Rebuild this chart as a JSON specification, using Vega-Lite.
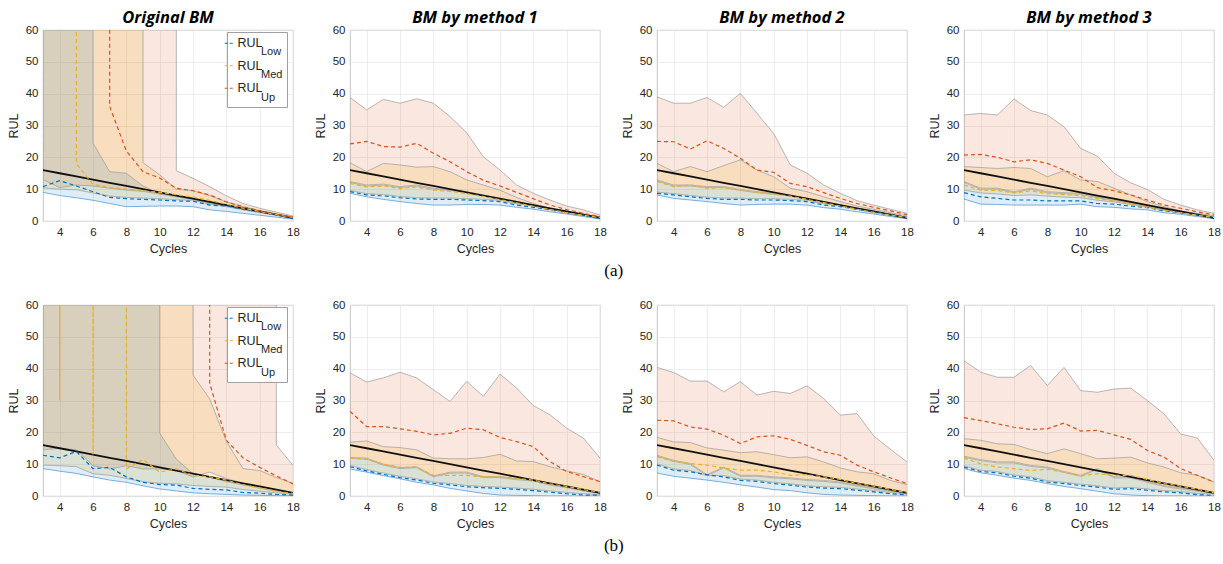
{
"$schema": "https://vega.github.io/schema/vega-lite/v6.json",
"background": "white",
"padding": {"left": 6, "top": 9, "right": 5, "bottom": 5},
"datasets": {"d": [
{"r":"a","g":"Original BM","c":3,"t":16,"lL":9,"lM":10.8,"lU":1e5,"mL":10.4,"mM":25,"mU":1e5,"uL":13,"uM":1e5,"uU":1e5},
{"r":"a","g":"Original BM","c":4,"t":15,"lL":8,"lM":12.7,"lU":1e5,"mL":10,"mM":1e5,"mU":1e5,"uL":10.5,"uM":1e5,"uU":1e5},
{"r":"a","g":"Original BM","c":5,"t":14,"lL":7.3,"lM":11,"lU":1e5,"mL":9.8,"mM":18,"mU":1e5,"uL":11.3,"uM":1e5,"uU":1e5},
{"r":"a","g":"Original BM","c":6,"t":13,"lL":6.5,"lM":9.2,"lU":24.5,"mL":8.8,"mM":11.5,"mU":1e5,"uL":11,"uM":1e5,"uU":1e5},
{"r":"a","g":"Original BM","c":7,"t":12,"lL":5.5,"lM":7.4,"lU":15.5,"mL":7.8,"mM":10.5,"mU":1e5,"uL":10.3,"uM":36,"uU":1e5},
{"r":"a","g":"Original BM","c":8,"t":11,"lL":4.5,"lM":7,"lU":15,"mL":7.4,"mM":10,"mU":1e5,"uL":9.7,"uM":22,"uU":1e5},
{"r":"a","g":"Original BM","c":9,"t":10,"lL":4.6,"lM":6.8,"lU":11,"mL":7.2,"mM":9.5,"mU":18.3,"uL":9.3,"uM":15.5,"uU":1e5},
{"r":"a","g":"Original BM","c":10,"t":9,"lL":4.7,"lM":6.6,"lU":8.5,"mL":7,"mM":9,"mU":14.5,"uL":8.5,"uM":13.5,"uU":1e5},
{"r":"a","g":"Original BM","c":11,"t":8,"lL":4.7,"lM":6.3,"lU":7.5,"mL":6.7,"mM":8.3,"mU":10,"uL":8,"uM":10.3,"uU":15.8},
{"r":"a","g":"Original BM","c":12,"t":7,"lL":4.5,"lM":6.2,"lU":6.8,"mL":6.5,"mM":7.5,"mU":9.5,"uL":7,"uM":9.5,"uU":13.4},
{"r":"a","g":"Original BM","c":13,"t":6,"lL":3.5,"lM":5,"lU":5.5,"mL":5.3,"mM":6.5,"mU":8,"uL":5.8,"uM":8.2,"uU":10.8},
{"r":"a","g":"Original BM","c":14,"t":5,"lL":3,"lM":4.7,"lU":4.5,"mL":4.9,"mM":5.3,"mU":6,"uL":4.8,"uM":6,"uU":7.9},
{"r":"a","g":"Original BM","c":15,"t":4,"lL":2.4,"lM":3.7,"lU":3.5,"mL":3.9,"mM":4,"mU":4.5,"uL":3.8,"uM":4.5,"uU":5.5},
{"r":"a","g":"Original BM","c":16,"t":3,"lL":1.8,"lM":2.9,"lU":2.6,"mL":3,"mM":3,"mU":3.3,"uL":2.8,"uM":3.2,"uU":4},
{"r":"a","g":"Original BM","c":17,"t":2,"lL":1.2,"lM":1.9,"lU":1.8,"mL":2.1,"mM":2,"mU":2.3,"uL":2,"uM":2.1,"uU":2.8},
{"r":"a","g":"Original BM","c":18,"t":1,"lL":0.6,"lM":0.8,"lU":1,"mL":1,"mM":1.1,"mU":1.3,"uL":1.2,"uM":1.2,"uU":1.6},
{"r":"a","g":"BM by method 1","c":3,"t":16,"lL":8.7,"lM":9.2,"lU":12.1,"mL":9.6,"mM":11.8,"mU":18.3,"uL":12.4,"uM":24.2,"uU":38.8},
{"r":"a","g":"BM by method 1","c":4,"t":15,"lL":7.6,"lM":8.2,"lU":11,"mL":8.6,"mM":10.7,"mU":15.5,"uL":11.3,"uM":25,"uU":34.9},
{"r":"a","g":"BM by method 1","c":5,"t":14,"lL":6.8,"lM":7.9,"lU":11.3,"mL":8.3,"mM":11,"mU":18.1,"uL":11.6,"uM":23.4,"uU":38.2},
{"r":"a","g":"BM by method 1","c":6,"t":13,"lL":6.1,"lM":7.3,"lU":10.5,"mL":7.7,"mM":10.2,"mU":17.6,"uL":10.8,"uM":23.2,"uU":37},
{"r":"a","g":"BM by method 1","c":7,"t":12,"lL":5.5,"lM":6.9,"lU":11,"mL":7.3,"mM":10.7,"mU":16.9,"uL":11.3,"uM":24.4,"uU":38.4},
{"r":"a","g":"BM by method 1","c":8,"t":11,"lL":5,"lM":6.8,"lU":10,"mL":7.2,"mM":9.7,"mU":17.1,"uL":10.3,"uM":21.3,"uU":37},
{"r":"a","g":"BM by method 1","c":9,"t":10,"lL":5,"lM":6.8,"lU":9.6,"mL":7.2,"mM":9.3,"mU":15.5,"uL":9.9,"uM":18.6,"uU":32.8},
{"r":"a","g":"BM by method 1","c":10,"t":9,"lL":5.2,"lM":6.6,"lU":8.9,"mL":7,"mM":8.6,"mU":12.9,"uL":9.2,"uM":15.5,"uU":27.7},
{"r":"a","g":"BM by method 1","c":11,"t":8,"lL":5.2,"lM":6.4,"lU":7.9,"mL":6.8,"mM":7.7,"mU":11.3,"uL":8.2,"uM":12.8,"uU":20.2},
{"r":"a","g":"BM by method 1","c":12,"t":7,"lL":5,"lM":6.1,"lU":6.8,"mL":6.5,"mM":6.7,"mU":9.7,"uL":7.1,"uM":11,"uU":16},
{"r":"a","g":"BM by method 1","c":13,"t":6,"lL":4.3,"lM":5,"lU":5.8,"mL":5.4,"mM":5.7,"mU":7.4,"uL":6.1,"uM":9,"uU":11.3},
{"r":"a","g":"BM by method 1","c":14,"t":5,"lL":3.7,"lM":4.3,"lU":4.7,"mL":4.7,"mM":4.6,"mU":5.5,"uL":5,"uM":7,"uU":8.7},
{"r":"a","g":"BM by method 1","c":15,"t":4,"lL":2.9,"lM":3.5,"lU":3.7,"mL":3.9,"mM":3.6,"mU":4,"uL":4,"uM":5,"uU":6.6},
{"r":"a","g":"BM by method 1","c":16,"t":3,"lL":2.2,"lM":2.6,"lU":2.6,"mL":3,"mM":2.6,"mU":2.9,"uL":2.9,"uM":3.6,"uU":4.7},
{"r":"a","g":"BM by method 1","c":17,"t":2,"lL":1.4,"lM":1.8,"lU":1.8,"mL":2.2,"mM":1.8,"mU":1.9,"uL":2.1,"uM":2.4,"uU":3.5},
{"r":"a","g":"BM by method 1","c":18,"t":1,"lL":0.6,"lM":0.8,"lU":1,"mL":1.1,"mM":1.1,"mU":1.4,"uL":1.2,"uM":1.4,"uU":1.9},
{"r":"a","g":"BM by method 2","c":3,"t":16,"lL":8.2,"lM":8.7,"lU":12.6,"mL":9.1,"mM":12.4,"mU":18.1,"uL":12.9,"uM":25,"uU":39},
{"r":"a","g":"BM by method 2","c":4,"t":15,"lL":7.1,"lM":8.2,"lU":11,"mL":8.6,"mM":10.8,"mU":15.5,"uL":11.3,"uM":24.9,"uU":37},
{"r":"a","g":"BM by method 2","c":5,"t":14,"lL":6.6,"lM":7.6,"lU":11,"mL":8,"mM":11.3,"mU":17.1,"uL":11.3,"uM":22.6,"uU":37},
{"r":"a","g":"BM by method 2","c":6,"t":13,"lL":6.1,"lM":7.1,"lU":10.5,"mL":7.5,"mM":10.3,"mU":15.5,"uL":10.8,"uM":25.2,"uU":38.8},
{"r":"a","g":"BM by method 2","c":7,"t":12,"lL":5.5,"lM":6.8,"lU":10.5,"mL":7.2,"mM":10.5,"mU":17.4,"uL":10.8,"uM":22.8,"uU":35.7},
{"r":"a","g":"BM by method 2","c":8,"t":11,"lL":5,"lM":6.8,"lU":9.6,"mL":7.2,"mM":9.7,"mU":19.2,"uL":9.9,"uM":19.7,"uU":40.1},
{"r":"a","g":"BM by method 2","c":9,"t":10,"lL":5.2,"lM":6.6,"lU":8.9,"mL":7,"mM":9,"mU":16,"uL":9.2,"uM":16,"uU":33.8},
{"r":"a","g":"BM by method 2","c":10,"t":9,"lL":5.3,"lM":6.6,"lU":8.4,"mL":7,"mM":8.5,"mU":13.9,"uL":8.7,"uM":15.3,"uU":27.5},
{"r":"a","g":"BM by method 2","c":11,"t":8,"lL":5.3,"lM":6.4,"lU":7.9,"mL":6.8,"mM":7.8,"mU":10.3,"uL":8.2,"uM":11.8,"uU":17.6},
{"r":"a","g":"BM by method 2","c":12,"t":7,"lL":5,"lM":6.1,"lU":6.8,"mL":6.5,"mM":6.8,"mU":9.2,"uL":7.1,"uM":10.8,"uU":15},
{"r":"a","g":"BM by method 2","c":13,"t":6,"lL":4.2,"lM":5,"lU":5.8,"mL":5.4,"mM":5.8,"mU":7.6,"uL":6.1,"uM":8.9,"uU":11.3},
{"r":"a","g":"BM by method 2","c":14,"t":5,"lL":3.7,"lM":4.5,"lU":4.7,"mL":4.9,"mM":4.7,"mU":6.1,"uL":5,"uM":7.1,"uU":8.7},
{"r":"a","g":"BM by method 2","c":15,"t":4,"lL":2.9,"lM":3.7,"lU":3.7,"mL":4,"mM":3.7,"mU":4.7,"uL":4,"uM":5.5,"uU":6.4},
{"r":"a","g":"BM by method 2","c":16,"t":3,"lL":2.2,"lM":2.8,"lU":2.6,"mL":3.1,"mM":2.7,"mU":3.7,"uL":2.9,"uM":4.3,"uU":5},
{"r":"a","g":"BM by method 2","c":17,"t":2,"lL":1.4,"lM":1.9,"lU":1.8,"mL":2,"mM":1.9,"mU":2.6,"uL":2.1,"uM":3.2,"uU":3.7},
{"r":"a","g":"BM by method 2","c":18,"t":1,"lL":0.7,"lM":1.2,"lU":1,"mL":1.1,"mM":1.1,"mU":1.6,"uL":1.2,"uM":2,"uU":2.4},
{"r":"a","g":"BM by method 3","c":3,"t":16,"lL":6.9,"lM":8.9,"lU":12.1,"mL":9.7,"mM":11.3,"mU":17.1,"uL":12.4,"uM":20.7,"uU":33.3},
{"r":"a","g":"BM by method 3","c":4,"t":15,"lL":5.3,"lM":7.6,"lU":10,"mL":8.8,"mM":9.7,"mU":16.8,"uL":10.3,"uM":20.9,"uU":33.8},
{"r":"a","g":"BM by method 3","c":5,"t":14,"lL":5.2,"lM":7.1,"lU":10,"mL":8.5,"mM":9.6,"mU":16.5,"uL":10.3,"uM":20,"uU":33.3},
{"r":"a","g":"BM by method 3","c":6,"t":13,"lL":5,"lM":6.6,"lU":8.9,"mL":8,"mM":8.8,"mU":16.8,"uL":9.2,"uM":18.6,"uU":38.3},
{"r":"a","g":"BM by method 3","c":7,"t":12,"lL":5,"lM":6.6,"lU":10,"mL":8.2,"mM":9.5,"mU":16.5,"uL":10.3,"uM":19.2,"uU":34.7},
{"r":"a","g":"BM by method 3","c":8,"t":11,"lL":5,"lM":6.3,"lU":8.9,"mL":7.8,"mM":8.6,"mU":13.9,"uL":9.2,"uM":18.1,"uU":33.3},
{"r":"a","g":"BM by method 3","c":9,"t":10,"lL":5,"lM":6.3,"lU":8.6,"mL":7.5,"mM":8.3,"mU":15.8,"uL":8.9,"uM":16,"uU":29.6},
{"r":"a","g":"BM by method 3","c":10,"t":9,"lL":5.3,"lM":6.3,"lU":8.4,"mL":7.3,"mM":8,"mU":12.9,"uL":8.7,"uM":13.9,"uU":22.8},
{"r":"a","g":"BM by method 3","c":11,"t":8,"lL":4.5,"lM":5.5,"lU":7.3,"mL":6.5,"mM":7,"mU":12.4,"uL":7.6,"uM":10.5,"uU":20.4},
{"r":"a","g":"BM by method 3","c":12,"t":7,"lL":4.3,"lM":5.3,"lU":6.5,"mL":6,"mM":6.3,"mU":10.3,"uL":6.8,"uM":9.5,"uU":15},
{"r":"a","g":"BM by method 3","c":13,"t":6,"lL":3.8,"lM":4.7,"lU":5.5,"mL":5.2,"mM":5.3,"mU":8.2,"uL":5.8,"uM":8.2,"uU":12},
{"r":"a","g":"BM by method 3","c":14,"t":5,"lL":3.5,"lM":4.2,"lU":4.4,"mL":4.5,"mM":4.3,"mU":6.1,"uL":4.7,"uM":6.6,"uU":9.9},
{"r":"a","g":"BM by method 3","c":15,"t":4,"lL":2.6,"lM":3.2,"lU":3.4,"mL":3.5,"mM":3.4,"mU":4.5,"uL":3.7,"uM":5,"uU":6.8},
{"r":"a","g":"BM by method 3","c":16,"t":3,"lL":2.1,"lM":2.6,"lU":2.5,"mL":2.7,"mM":2.6,"mU":3.2,"uL":2.8,"uM":4,"uU":5},
{"r":"a","g":"BM by method 3","c":17,"t":2,"lL":1.4,"lM":1.9,"lU":1.7,"mL":1.8,"mM":1.8,"mU":2.4,"uL":1.9,"uM":2.9,"uU":3.5},
{"r":"a","g":"BM by method 3","c":18,"t":1,"lL":0.7,"lM":1.2,"lU":1,"mL":1.1,"mM":1.1,"mU":1.6,"uL":1.2,"uM":1.9,"uU":2.4},
{"r":"b","g":"Original BM","c":3,"t":16,"lL":8.6,"lM":12.8,"lU":1e5,"mL":9.7,"mM":1e5,"mU":1e5,"uL":14.5,"uM":1e5,"uU":1e5},
{"r":"b","g":"Original BM","c":4,"t":15,"lL":7.8,"lM":12,"lU":1e5,"mL":9.5,"mM":30,"mU":1e5,"uL":15,"uM":1e5,"uU":1e5},
{"r":"b","g":"Original BM","c":5,"t":14,"lL":7.1,"lM":14,"lU":1e5,"mL":9.2,"mM":1e5,"mU":1e5,"uL":14.5,"uM":1e5,"uU":1e5},
{"r":"b","g":"Original BM","c":6,"t":13,"lL":6,"lM":8.6,"lU":1e5,"mL":7,"mM":13,"mU":1e5,"uL":9.5,"uM":1e5,"uU":1e5},
{"r":"b","g":"Original BM","c":7,"t":12,"lL":5,"lM":9,"lU":1e5,"mL":6.5,"mM":1e5,"mU":1e5,"uL":8.5,"uM":1e5,"uU":1e5},
{"r":"b","g":"Original BM","c":8,"t":11,"lL":4.3,"lM":6,"lU":1e5,"mL":5.5,"mM":8.5,"mU":1e5,"uL":9.5,"uM":1e5,"uU":1e5},
{"r":"b","g":"Original BM","c":9,"t":10,"lL":3.2,"lM":4.3,"lU":1e5,"mL":4.5,"mM":11.5,"mU":1e5,"uL":8.5,"uM":1e5,"uU":1e5},
{"r":"b","g":"Original BM","c":10,"t":9,"lL":2.2,"lM":3.6,"lU":19.8,"mL":4,"mM":7.5,"mU":1e5,"uL":8.5,"uM":1e5,"uU":1e5},
{"r":"b","g":"Original BM","c":11,"t":8,"lL":1.6,"lM":3.4,"lU":11.6,"mL":3.8,"mM":8.5,"mU":1e5,"uL":8,"uM":1e5,"uU":1e5},
{"r":"b","g":"Original BM","c":12,"t":7,"lL":1,"lM":2.4,"lU":7,"mL":3.3,"mM":6.5,"mU":38,"uL":6,"uM":1e5,"uU":1e5},
{"r":"b","g":"Original BM","c":13,"t":6,"lL":0.7,"lM":2.1,"lU":6,"mL":3,"mM":6,"mU":30.5,"uL":7.5,"uM":35.5,"uU":1e5},
{"r":"b","g":"Original BM","c":14,"t":5,"lL":0.5,"lM":1.9,"lU":4.5,"mL":2.8,"mM":5,"mU":17.2,"uL":5.5,"uM":17.5,"uU":1e5},
{"r":"b","g":"Original BM","c":15,"t":4,"lL":0.3,"lM":1.1,"lU":3.5,"mL":2,"mM":3.5,"mU":8.6,"uL":4,"uM":12,"uU":1e5},
{"r":"b","g":"Original BM","c":16,"t":3,"lL":0.2,"lM":0.9,"lU":2.5,"mL":1.5,"mM":2.5,"mU":8,"uL":3,"uM":9,"uU":1e5},
{"r":"b","g":"Original BM","c":17,"t":2,"lL":0.1,"lM":0.5,"lU":1.5,"mL":1,"mM":1.5,"mU":5.8,"uL":2,"uM":6.3,"uU":16},
{"r":"b","g":"Original BM","c":18,"t":1,"lL":0.1,"lM":0.3,"lU":0.8,"mL":0.5,"mM":0.8,"mU":4,"uL":1,"uM":3.8,"uU":9.6},
{"r":"b","g":"BM by method 1","c":3,"t":16,"lL":8.5,"lM":9.2,"lU":11.8,"mL":9.6,"mM":12,"mU":16.9,"uL":12.1,"uM":26.6,"uU":38.7},
{"r":"b","g":"BM by method 1","c":4,"t":15,"lL":7.5,"lM":7.9,"lU":11.6,"mL":8.3,"mM":11.5,"mU":17.3,"uL":11.9,"uM":21.8,"uU":35.8},
{"r":"b","g":"BM by method 1","c":5,"t":14,"lL":6.4,"lM":6.8,"lU":9.7,"mL":7.2,"mM":10,"mU":15.5,"uL":10,"uM":21.8,"uU":37.1},
{"r":"b","g":"BM by method 1","c":6,"t":13,"lL":5.4,"lM":5.8,"lU":8.6,"mL":6.2,"mM":9,"mU":15.2,"uL":8.9,"uM":21.1,"uU":38.9},
{"r":"b","g":"BM by method 1","c":7,"t":12,"lL":4.3,"lM":5,"lU":8.9,"mL":5.4,"mM":9,"mU":14.5,"uL":9.2,"uM":20.3,"uU":37.1},
{"r":"b","g":"BM by method 1","c":8,"t":11,"lL":3.5,"lM":4,"lU":6,"mL":4.4,"mM":6.5,"mU":11.9,"uL":6.3,"uM":19.2,"uU":33.4},
{"r":"b","g":"BM by method 1","c":9,"t":10,"lL":2.4,"lM":3.5,"lU":7.2,"mL":3.9,"mM":6.5,"mU":11.7,"uL":7.5,"uM":19.7,"uU":29.7},
{"r":"b","g":"BM by method 1","c":10,"t":9,"lL":1.6,"lM":2.9,"lU":7.2,"mL":3.3,"mM":6.5,"mU":11.7,"uL":7.5,"uM":21.3,"uU":36},
{"r":"b","g":"BM by method 1","c":11,"t":8,"lL":0.8,"lM":2.6,"lU":5.8,"mL":3,"mM":6,"mU":12.1,"uL":6.1,"uM":20.8,"uU":31.3},
{"r":"b","g":"BM by method 1","c":12,"t":7,"lL":0.3,"lM":2.4,"lU":5.8,"mL":2.8,"mM":6,"mU":13.1,"uL":6.1,"uM":18.4,"uU":38.3},
{"r":"b","g":"BM by method 1","c":13,"t":6,"lL":0.2,"lM":2.1,"lU":5.1,"mL":2.5,"mM":5.5,"mU":11,"uL":5.4,"uM":17.1,"uU":33.9},
{"r":"b","g":"BM by method 1","c":14,"t":5,"lL":0.1,"lM":1.7,"lU":4.7,"mL":2.1,"mM":5,"mU":10.8,"uL":5,"uM":15.5,"uU":28.4},
{"r":"b","g":"BM by method 1","c":15,"t":4,"lL":0,"lM":1.2,"lU":3.4,"mL":1.6,"mM":3.8,"mU":9.2,"uL":3.7,"uM":10.8,"uU":25.5},
{"r":"b","g":"BM by method 1","c":16,"t":3,"lL":0,"lM":0.7,"lU":2.6,"mL":1.1,"mM":3,"mU":7.9,"uL":2.9,"uM":7.7,"uU":21.3},
{"r":"b","g":"BM by method 1","c":17,"t":2,"lL":0,"lM":0.3,"lU":1.6,"mL":0.7,"mM":2,"mU":6.8,"uL":1.9,"uM":6.1,"uU":18.2},
{"r":"b","g":"BM by method 1","c":18,"t":1,"lL":0,"lM":0.3,"lU":0.9,"mL":0.5,"mM":1.2,"mU":4.5,"uL":1.2,"uM":4.5,"uU":11.9},
{"r":"b","g":"BM by method 2","c":3,"t":16,"lL":7.2,"lM":9.7,"lU":12.5,"mL":10.1,"mM":12.3,"mU":18.4,"uL":12.8,"uM":23.8,"uU":40.4},
{"r":"b","g":"BM by method 2","c":4,"t":15,"lL":6.2,"lM":8.1,"lU":10.9,"mL":8.5,"mM":10.9,"mU":17,"uL":11.2,"uM":23.6,"uU":38.8},
{"r":"b","g":"BM by method 2","c":5,"t":14,"lL":5.6,"lM":7.6,"lU":9.9,"mL":8,"mM":10.2,"mU":16.8,"uL":10.2,"uM":21.7,"uU":36.1},
{"r":"b","g":"BM by method 2","c":6,"t":13,"lL":5,"lM":6.7,"lU":6.4,"mL":6.4,"mM":9.7,"mU":15.1,"uL":6.7,"uM":21,"uU":36.1},
{"r":"b","g":"BM by method 2","c":7,"t":12,"lL":4.3,"lM":6,"lU":8.8,"mL":6.4,"mM":8.8,"mU":14.4,"uL":9.1,"uM":19.1,"uU":32.7},
{"r":"b","g":"BM by method 2","c":8,"t":11,"lL":3.5,"lM":4.9,"lU":6.2,"mL":5.3,"mM":8.1,"mU":13.6,"uL":6.5,"uM":16.5,"uU":35.9},
{"r":"b","g":"BM by method 2","c":9,"t":10,"lL":2.8,"lM":4.6,"lU":6.2,"mL":5,"mM":8.1,"mU":13.9,"uL":6.5,"uM":18.6,"uU":31.7},
{"r":"b","g":"BM by method 2","c":10,"t":9,"lL":2,"lM":3.9,"lU":5.7,"mL":4.3,"mM":7.6,"mU":13,"uL":6,"uM":18.9,"uU":32.9},
{"r":"b","g":"BM by method 2","c":11,"t":8,"lL":1.7,"lM":3.4,"lU":5.4,"mL":3.8,"mM":6.5,"mU":12,"uL":5.7,"uM":17.8,"uU":32.2},
{"r":"b","g":"BM by method 2","c":12,"t":7,"lL":1,"lM":2.8,"lU":4.9,"mL":3.2,"mM":6.7,"mU":12.3,"uL":5.2,"uM":15.9,"uU":34.6},
{"r":"b","g":"BM by method 2","c":13,"t":6,"lL":0.5,"lM":2.5,"lU":4.6,"mL":2.9,"mM":6,"mU":10.7,"uL":4.9,"uM":13.9,"uU":30.6},
{"r":"b","g":"BM by method 2","c":14,"t":5,"lL":0.3,"lM":2.3,"lU":4.1,"mL":2.7,"mM":5.2,"mU":8.8,"uL":4.4,"uM":12.8,"uU":25.4},
{"r":"b","g":"BM by method 2","c":15,"t":4,"lL":0.2,"lM":1.8,"lU":3.1,"mL":2.2,"mM":3.9,"mU":7.6,"uL":3.4,"uM":9.7,"uU":25.9},
{"r":"b","g":"BM by method 2","c":16,"t":3,"lL":0.1,"lM":1.3,"lU":2.3,"mL":1.7,"mM":3.1,"mU":7,"uL":2.6,"uM":7.6,"uU":18.9},
{"r":"b","g":"BM by method 2","c":17,"t":2,"lL":0,"lM":0.7,"lU":1.5,"mL":1.1,"mM":2.1,"mU":4.9,"uL":1.8,"uM":5.7,"uU":14.7},
{"r":"b","g":"BM by method 2","c":18,"t":1,"lL":0,"lM":0.4,"lU":0.8,"mL":0.6,"mM":1,"mU":3.6,"uL":1,"uM":3.9,"uU":10.7},
{"r":"b","g":"BM by method 3","c":3,"t":16,"lL":8.6,"lM":9.1,"lU":12.2,"mL":9.5,"mM":11.9,"mU":18,"uL":12.5,"uM":24.6,"uU":42.5},
{"r":"b","g":"BM by method 3","c":4,"t":15,"lL":7.3,"lM":7.7,"lU":11.1,"mL":8.1,"mM":10.1,"mU":17.5,"uL":11.4,"uM":23.7,"uU":38.9},
{"r":"b","g":"BM by method 3","c":5,"t":14,"lL":6.5,"lM":7.3,"lU":10.4,"mL":7.7,"mM":9.1,"mU":16.4,"uL":10.7,"uM":22.7,"uU":37.3},
{"r":"b","g":"BM by method 3","c":6,"t":13,"lL":5.6,"lM":6.2,"lU":10.4,"mL":6.6,"mM":8.6,"mU":16.2,"uL":10.7,"uM":21.6,"uU":37.3},
{"r":"b","g":"BM by method 3","c":7,"t":12,"lL":4.9,"lM":5.6,"lU":9.3,"mL":6,"mM":8,"mU":14.6,"uL":9.6,"uM":20.9,"uU":41},
{"r":"b","g":"BM by method 3","c":8,"t":11,"lL":3.9,"lM":4.4,"lU":8.8,"mL":4.8,"mM":8.4,"mU":13.3,"uL":9.1,"uM":21.1,"uU":34.7},
{"r":"b","g":"BM by method 3","c":9,"t":10,"lL":3,"lM":3.9,"lU":7.4,"mL":4.3,"mM":7.5,"mU":14.8,"uL":7.7,"uM":22.9,"uU":40.4},
{"r":"b","g":"BM by method 3","c":10,"t":9,"lL":2.3,"lM":3.3,"lU":6.2,"mL":3.7,"mM":6.3,"mU":13.3,"uL":6.5,"uM":20.4,"uU":33.1},
{"r":"b","g":"BM by method 3","c":11,"t":8,"lL":1.5,"lM":2.8,"lU":8.3,"mL":3.2,"mM":7,"mU":11.7,"uL":8.6,"uM":20.6,"uU":32.6},
{"r":"b","g":"BM by method 3","c":12,"t":7,"lL":0.7,"lM":2.1,"lU":5.7,"mL":2.5,"mM":6.5,"mU":11.9,"uL":6,"uM":19.2,"uU":33.6},
{"r":"b","g":"BM by method 3","c":13,"t":6,"lL":0.3,"lM":2.3,"lU":5.7,"mL":2.7,"mM":6.5,"mU":12.2,"uL":6,"uM":17.8,"uU":33.9},
{"r":"b","g":"BM by method 3","c":14,"t":5,"lL":0.1,"lM":1.8,"lU":4.3,"mL":2.2,"mM":5.2,"mU":10.4,"uL":4.6,"uM":14.3,"uU":30},
{"r":"b","g":"BM by method 3","c":15,"t":4,"lL":0,"lM":1.3,"lU":3,"mL":1.7,"mM":3.9,"mU":9.1,"uL":3.3,"uM":12.2,"uU":25.8},
{"r":"b","g":"BM by method 3","c":16,"t":3,"lL":0,"lM":1,"lU":2.2,"mL":1.4,"mM":3.1,"mU":7.3,"uL":2.5,"uM":8.6,"uU":19.5},
{"r":"b","g":"BM by method 3","c":17,"t":2,"lL":0,"lM":0.4,"lU":1.5,"mL":0.8,"mM":2.1,"mU":6.5,"uL":1.8,"uM":6.5,"uU":18.2},
{"r":"b","g":"BM by method 3","c":18,"t":1,"lL":0,"lM":0.2,"lU":0.8,"mL":0.6,"mM":1,"mU":4.4,"uL":1,"uM":4.4,"uU":11.2}
]},
"data": {"name": "d"},
"spacing": 18,
"resolve": {"scale": {"color": "independent", "strokeWidth": "independent"}, "legend": {"color": "independent", "strokeWidth": "independent"}},
"vconcat": [
{
"transform": [{"filter": "datum.r === 'a'"}],
"facet": {"column": {"field": "g", "type": "nominal", "sort": ["Original BM", "BM by method 1", "BM by method 2", "BM by method 3"], "title": null,
  "header": {"labelFont": "Open Sans", "labelFontStyle": "italic", "labelFontWeight": "bold", "labelFontSize": 16.5, "labelColor": "black", "labelPadding": 4}}},
"spacing": {"column": 57},
"bounds": "flush",
"title": {"text": "(a)", "orient": "bottom", "anchor": "middle", "font": "Liberation Serif", "fontSize": 17, "fontWeight": "normal", "color": "black", "offset": 8},
"resolve": {"axis": {"x": "independent", "y": "independent"}},
"spec": {
 "width": 250, "height": 191,
 "encoding": {"x": {"field": "c", "type": "quantitative", "title": "Cycles", "scale": {"domain": [3, 18], "nice": false}, "axis": {"values": [4, 6, 8, 10, 12, 14, 16, 18], "labelFlush": false}}},
 "layer": [
  {"mark": {"type": "area", "color": "#D95319", "opacity": 0.14, "clip": true}, "encoding": {"y": {"field": "uL", "type": "quantitative", "title": "RUL", "scale": {"domain": [0, 60], "nice": false}, "axis": {"values": [0, 10, 20, 30, 40, 50, 60], "labelFlush": false, "labelOverlap": false}}, "y2": {"field": "uU"}}},
  {"mark": {"type": "area", "color": "#EDB120", "opacity": 0.17, "clip": true}, "encoding": {"y": {"field": "mL", "type": "quantitative", "title": "RUL", "scale": {"domain": [0, 60], "nice": false}, "axis": {"values": [0, 10, 20, 30, 40, 50, 60], "labelFlush": false, "labelOverlap": false}}, "y2": {"field": "mU"}}},
  {"mark": {"type": "area", "color": "#0072BD", "opacity": 0.13, "clip": true}, "encoding": {"y": {"field": "lL", "type": "quantitative", "title": "RUL", "scale": {"domain": [0, 60], "nice": false}, "axis": {"values": [0, 10, 20, 30, 40, 50, 60], "labelFlush": false, "labelOverlap": false}}, "y2": {"field": "lU"}}},
  {"transform": [{"fold": ["lU", "mL", "mU", "uL", "uU"], "as": ["ek", "ev"]}], "mark": {"type": "line", "color": "#9a9a9a", "strokeWidth": 0.7, "clip": true}, "encoding": {"y": {"field": "ev", "type": "quantitative", "title": "RUL", "scale": {"domain": [0, 60], "nice": false}, "axis": {"values": [0, 10, 20, 30, 40, 50, 60], "labelFlush": false, "labelOverlap": false}}, "detail": {"field": "ek"}}},
  {"mark": {"type": "line", "color": "#5b9bd5", "strokeWidth": 0.8, "clip": true}, "encoding": {"y": {"field": "lL", "type": "quantitative", "title": "RUL", "scale": {"domain": [0, 60], "nice": false}, "axis": {"values": [0, 10, 20, 30, 40, 50, 60], "labelFlush": false, "labelOverlap": false}}}},
  {"mark": {"type": "line", "color": "#111111", "strokeWidth": 1.8, "clip": true}, "encoding": {"y": {"field": "t", "type": "quantitative", "title": "RUL", "scale": {"domain": [0, 60], "nice": false}, "axis": {"values": [0, 10, 20, 30, 40, 50, 60], "labelFlush": false, "labelOverlap": false}}}},
  {"transform": [{"fold": ["lM", "mM", "uM"], "as": ["key", "val"]}], "mark": {"type": "line", "strokeDash": [4, 3], "clip": true}, "encoding": {
    "y": {"field": "val", "type": "quantitative", "title": "RUL", "scale": {"domain": [0, 60], "nice": false}, "axis": {"values": [0, 10, 20, 30, 40, 50, 60], "labelFlush": false, "labelOverlap": false}},
    "color": {"field": "key", "type": "nominal", "scale": {"domain": ["lM", "mM", "uM"], "range": ["#0072BD", "#EDB120", "#D95319"]},
      "legend": {"orient": "none", "legendX": 177, "legendY": 4, "zindex": 2, "title": null, "labelExpr": "'RUL'", "padding": 3, "symbolType": "stroke", "symbolDash": [3, 2], "symbolStrokeWidth": 1.2, "symbolSize": 81, "labelFontSize": 12.5, "labelFont": "Liberation Sans", "labelColor": "#262626", "labelOffset": 2, "rowPadding": 9.5}},
    "strokeWidth": {"field": "key", "type": "ordinal", "scale": {"domain": ["lM", "mM", "uM", "zz"], "range": [1.2, 1.2]},
      "legend": {"orient": "none", "legendX": 184, "legendY": 2, "zindex": 1, "title": "\u00a0", "titleFontSize": 8, "titlePadding": 2, "values": ["lM", "mM", "uM"], "labelExpr": "datum.value === 'lM' ? 'Low' : datum.value === 'mM' ? 'Med' : 'Up'", "fillColor": "white", "strokeColor": "#a0a0a0", "padding": 4, "symbolOpacity": 0, "symbolStrokeWidth": 0, "symbolSize": 1, "labelFontSize": 11, "labelFont": "Liberation Sans", "labelColor": "#262626", "labelOffset": 19, "rowPadding": 11}}
  }}
 ]
}
},
{
"transform": [{"filter": "datum.r === 'b'"}],
"facet": {"column": {"field": "g", "type": "nominal", "sort": ["Original BM", "BM by method 1", "BM by method 2", "BM by method 3"], "title": null, "header": {"labels": false}}},
"spacing": {"column": 57},
"bounds": "flush",
"title": {"text": "(b)", "orient": "bottom", "anchor": "middle", "font": "Liberation Serif", "fontSize": 17, "fontWeight": "normal", "color": "black", "offset": 8},
"resolve": {"axis": {"x": "independent", "y": "independent"}},
"spec": {
 "width": 250, "height": 191,
 "encoding": {"x": {"field": "c", "type": "quantitative", "title": "Cycles", "scale": {"domain": [3, 18], "nice": false}, "axis": {"values": [4, 6, 8, 10, 12, 14, 16, 18], "labelFlush": false}}},
 "layer": [
  {"mark": {"type": "area", "color": "#D95319", "opacity": 0.14, "clip": true}, "encoding": {"y": {"field": "uL", "type": "quantitative", "title": "RUL", "scale": {"domain": [0, 60], "nice": false}, "axis": {"values": [0, 10, 20, 30, 40, 50, 60], "labelFlush": false, "labelOverlap": false}}, "y2": {"field": "uU"}}},
  {"mark": {"type": "area", "color": "#EDB120", "opacity": 0.17, "clip": true}, "encoding": {"y": {"field": "mL", "type": "quantitative", "title": "RUL", "scale": {"domain": [0, 60], "nice": false}, "axis": {"values": [0, 10, 20, 30, 40, 50, 60], "labelFlush": false, "labelOverlap": false}}, "y2": {"field": "mU"}}},
  {"mark": {"type": "area", "color": "#0072BD", "opacity": 0.13, "clip": true}, "encoding": {"y": {"field": "lL", "type": "quantitative", "title": "RUL", "scale": {"domain": [0, 60], "nice": false}, "axis": {"values": [0, 10, 20, 30, 40, 50, 60], "labelFlush": false, "labelOverlap": false}}, "y2": {"field": "lU"}}},
  {"transform": [{"fold": ["lU", "mL", "mU", "uL", "uU"], "as": ["ek", "ev"]}], "mark": {"type": "line", "color": "#9a9a9a", "strokeWidth": 0.7, "clip": true}, "encoding": {"y": {"field": "ev", "type": "quantitative", "title": "RUL", "scale": {"domain": [0, 60], "nice": false}, "axis": {"values": [0, 10, 20, 30, 40, 50, 60], "labelFlush": false, "labelOverlap": false}}, "detail": {"field": "ek"}}},
  {"mark": {"type": "line", "color": "#5b9bd5", "strokeWidth": 0.8, "clip": true}, "encoding": {"y": {"field": "lL", "type": "quantitative", "title": "RUL", "scale": {"domain": [0, 60], "nice": false}, "axis": {"values": [0, 10, 20, 30, 40, 50, 60], "labelFlush": false, "labelOverlap": false}}}},
  {"mark": {"type": "line", "color": "#111111", "strokeWidth": 1.8, "clip": true}, "encoding": {"y": {"field": "t", "type": "quantitative", "title": "RUL", "scale": {"domain": [0, 60], "nice": false}, "axis": {"values": [0, 10, 20, 30, 40, 50, 60], "labelFlush": false, "labelOverlap": false}}}},
  {"transform": [{"fold": ["lM", "mM", "uM"], "as": ["key", "val"]}], "mark": {"type": "line", "strokeDash": [4, 3], "clip": true}, "encoding": {
    "y": {"field": "val", "type": "quantitative", "title": "RUL", "scale": {"domain": [0, 60], "nice": false}, "axis": {"values": [0, 10, 20, 30, 40, 50, 60], "labelFlush": false, "labelOverlap": false}},
    "color": {"field": "key", "type": "nominal", "scale": {"domain": ["lM", "mM", "uM"], "range": ["#0072BD", "#EDB120", "#D95319"]},
      "legend": {"orient": "none", "legendX": 177, "legendY": 4, "zindex": 2, "title": null, "labelExpr": "'RUL'", "padding": 3, "symbolType": "stroke", "symbolDash": [3, 2], "symbolStrokeWidth": 1.2, "symbolSize": 81, "labelFontSize": 12.5, "labelFont": "Liberation Sans", "labelColor": "#262626", "labelOffset": 2, "rowPadding": 9.5}},
    "strokeWidth": {"field": "key", "type": "ordinal", "scale": {"domain": ["lM", "mM", "uM", "zz"], "range": [1.2, 1.2]},
      "legend": {"orient": "none", "legendX": 184, "legendY": 2, "zindex": 1, "title": "\u00a0", "titleFontSize": 8, "titlePadding": 2, "values": ["lM", "mM", "uM"], "labelExpr": "datum.value === 'lM' ? 'Low' : datum.value === 'mM' ? 'Med' : 'Up'", "fillColor": "white", "strokeColor": "#a0a0a0", "padding": 4, "symbolOpacity": 0, "symbolStrokeWidth": 0, "symbolSize": 1, "labelFontSize": 11, "labelFont": "Liberation Sans", "labelColor": "#262626", "labelOffset": 19, "rowPadding": 11}}
  }}
 ]
}
}
],
"config": {
 "view": {"stroke": "#b5b5b5", "strokeWidth": 0.8},
 "axis": {"labelFont": "Liberation Sans", "titleFont": "Liberation Sans", "labelFontSize": 11.5, "titleFontSize": 12.5, "titleFontWeight": "normal", "labelColor": "#262626", "titleColor": "#262626", "gridColor": "#e6e6e6", "gridWidth": 0.7, "domain": false, "ticks": false, "labelPadding": 5, "titlePadding": 5, "labelOverlap": false}
}
}
